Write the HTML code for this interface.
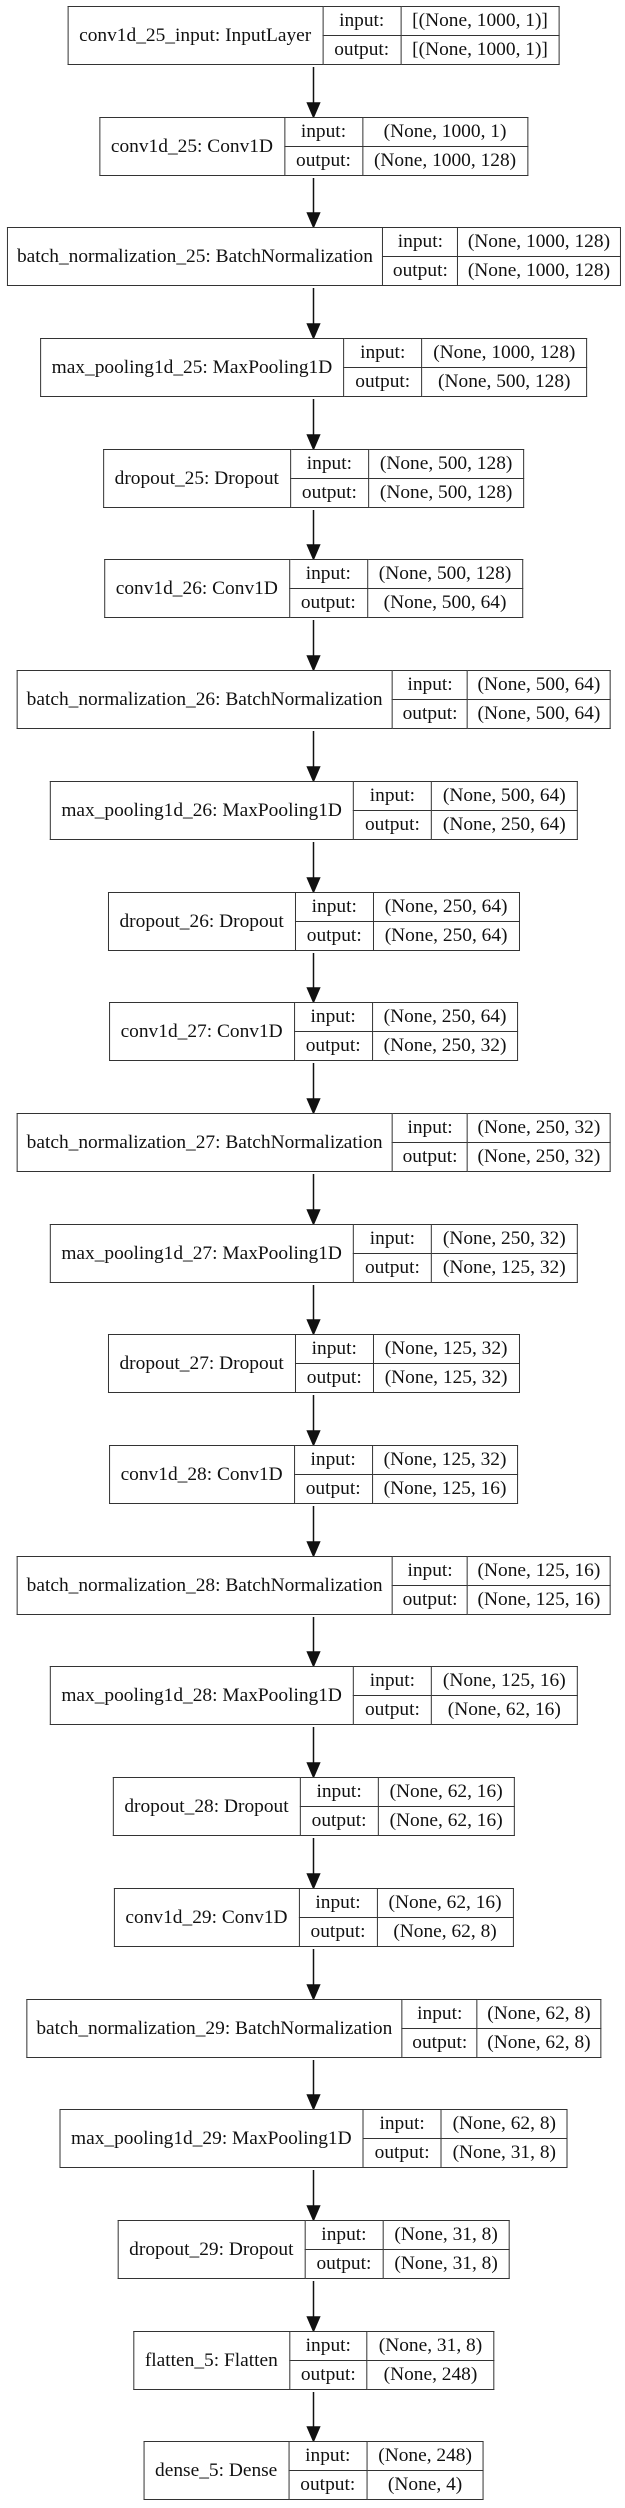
<!DOCTYPE html>
<html><head><meta charset="utf-8"><style>
html,body{margin:0;padding:0;background:#fff;width:625px;height:2508px;overflow:hidden;position:relative}
table{position:absolute;left:313.5px;transform:translateX(-50%);border-collapse:collapse;font-family:"Liberation Serif",serif;font-size:19.4px;color:#111;background:#fff}
td{border:1.5px solid #333;padding:0 11px;height:28px;line-height:28px;white-space:nowrap;text-align:center}
table.bn td{padding:0 9.5px}
svg{position:absolute;left:0;top:0}
</style></head><body>
<svg width="625" height="2508">
<g stroke="#111" stroke-width="1.5" fill="#111">
<line x1="313.5" y1="67" x2="313.5" y2="103"/><polygon points="307.5,103 319.5,103 313.5,117"/>
<line x1="313.5" y1="178" x2="313.5" y2="213"/><polygon points="307.5,213 319.5,213 313.5,227"/>
<line x1="313.5" y1="288" x2="313.5" y2="324"/><polygon points="307.5,324 319.5,324 313.5,338"/>
<line x1="313.5" y1="399" x2="313.5" y2="435"/><polygon points="307.5,435 319.5,435 313.5,449"/>
<line x1="313.5" y1="510" x2="313.5" y2="545"/><polygon points="307.5,545 319.5,545 313.5,559"/>
<line x1="313.5" y1="620" x2="313.5" y2="656"/><polygon points="307.5,656 319.5,656 313.5,670"/>
<line x1="313.5" y1="731" x2="313.5" y2="767"/><polygon points="307.5,767 319.5,767 313.5,781"/>
<line x1="313.5" y1="842" x2="313.5" y2="878"/><polygon points="307.5,878 319.5,878 313.5,892"/>
<line x1="313.5" y1="953" x2="313.5" y2="988"/><polygon points="307.5,988 319.5,988 313.5,1002"/>
<line x1="313.5" y1="1063" x2="313.5" y2="1099"/><polygon points="307.5,1099 319.5,1099 313.5,1113"/>
<line x1="313.5" y1="1174" x2="313.5" y2="1210"/><polygon points="307.5,1210 319.5,1210 313.5,1224"/>
<line x1="313.5" y1="1285" x2="313.5" y2="1320"/><polygon points="307.5,1320 319.5,1320 313.5,1334"/>
<line x1="313.5" y1="1395" x2="313.5" y2="1431"/><polygon points="307.5,1431 319.5,1431 313.5,1445"/>
<line x1="313.5" y1="1506" x2="313.5" y2="1542"/><polygon points="307.5,1542 319.5,1542 313.5,1556"/>
<line x1="313.5" y1="1617" x2="313.5" y2="1652"/><polygon points="307.5,1652 319.5,1652 313.5,1666"/>
<line x1="313.5" y1="1727" x2="313.5" y2="1763"/><polygon points="307.5,1763 319.5,1763 313.5,1777"/>
<line x1="313.5" y1="1838" x2="313.5" y2="1874"/><polygon points="307.5,1874 319.5,1874 313.5,1888"/>
<line x1="313.5" y1="1949" x2="313.5" y2="1985"/><polygon points="307.5,1985 319.5,1985 313.5,1999"/>
<line x1="313.5" y1="2060" x2="313.5" y2="2095"/><polygon points="307.5,2095 319.5,2095 313.5,2109"/>
<line x1="313.5" y1="2170" x2="313.5" y2="2206"/><polygon points="307.5,2206 319.5,2206 313.5,2220"/>
<line x1="313.5" y1="2281" x2="313.5" y2="2317"/><polygon points="307.5,2317 319.5,2317 313.5,2331"/>
<line x1="313.5" y1="2392" x2="313.5" y2="2427"/><polygon points="307.5,2427 319.5,2427 313.5,2441"/>
</g></svg>

<table style="top:6px"><tr><td rowspan="2">conv1d_25_input: InputLayer</td><td>input:</td><td>[(None, 1000, 1)]</td></tr><tr><td>output:</td><td>[(None, 1000, 1)]</td></tr></table>
<table style="top:117px"><tr><td rowspan="2">conv1d_25: Conv1D</td><td>input:</td><td>(None, 1000, 1)</td></tr><tr><td>output:</td><td>(None, 1000, 128)</td></tr></table>
<table class="bn" style="top:227px"><tr><td rowspan="2">batch_normalization_25: BatchNormalization</td><td>input:</td><td>(None, 1000, 128)</td></tr><tr><td>output:</td><td>(None, 1000, 128)</td></tr></table>
<table style="top:338px"><tr><td rowspan="2">max_pooling1d_25: MaxPooling1D</td><td>input:</td><td>(None, 1000, 128)</td></tr><tr><td>output:</td><td>(None, 500, 128)</td></tr></table>
<table style="top:449px"><tr><td rowspan="2">dropout_25: Dropout</td><td>input:</td><td>(None, 500, 128)</td></tr><tr><td>output:</td><td>(None, 500, 128)</td></tr></table>
<table style="top:559px"><tr><td rowspan="2">conv1d_26: Conv1D</td><td>input:</td><td>(None, 500, 128)</td></tr><tr><td>output:</td><td>(None, 500, 64)</td></tr></table>
<table class="bn" style="top:670px"><tr><td rowspan="2">batch_normalization_26: BatchNormalization</td><td>input:</td><td>(None, 500, 64)</td></tr><tr><td>output:</td><td>(None, 500, 64)</td></tr></table>
<table style="top:781px"><tr><td rowspan="2">max_pooling1d_26: MaxPooling1D</td><td>input:</td><td>(None, 500, 64)</td></tr><tr><td>output:</td><td>(None, 250, 64)</td></tr></table>
<table style="top:892px"><tr><td rowspan="2">dropout_26: Dropout</td><td>input:</td><td>(None, 250, 64)</td></tr><tr><td>output:</td><td>(None, 250, 64)</td></tr></table>
<table style="top:1002px"><tr><td rowspan="2">conv1d_27: Conv1D</td><td>input:</td><td>(None, 250, 64)</td></tr><tr><td>output:</td><td>(None, 250, 32)</td></tr></table>
<table class="bn" style="top:1113px"><tr><td rowspan="2">batch_normalization_27: BatchNormalization</td><td>input:</td><td>(None, 250, 32)</td></tr><tr><td>output:</td><td>(None, 250, 32)</td></tr></table>
<table style="top:1224px"><tr><td rowspan="2">max_pooling1d_27: MaxPooling1D</td><td>input:</td><td>(None, 250, 32)</td></tr><tr><td>output:</td><td>(None, 125, 32)</td></tr></table>
<table style="top:1334px"><tr><td rowspan="2">dropout_27: Dropout</td><td>input:</td><td>(None, 125, 32)</td></tr><tr><td>output:</td><td>(None, 125, 32)</td></tr></table>
<table style="top:1445px"><tr><td rowspan="2">conv1d_28: Conv1D</td><td>input:</td><td>(None, 125, 32)</td></tr><tr><td>output:</td><td>(None, 125, 16)</td></tr></table>
<table class="bn" style="top:1556px"><tr><td rowspan="2">batch_normalization_28: BatchNormalization</td><td>input:</td><td>(None, 125, 16)</td></tr><tr><td>output:</td><td>(None, 125, 16)</td></tr></table>
<table style="top:1666px"><tr><td rowspan="2">max_pooling1d_28: MaxPooling1D</td><td>input:</td><td>(None, 125, 16)</td></tr><tr><td>output:</td><td>(None, 62, 16)</td></tr></table>
<table style="top:1777px"><tr><td rowspan="2">dropout_28: Dropout</td><td>input:</td><td>(None, 62, 16)</td></tr><tr><td>output:</td><td>(None, 62, 16)</td></tr></table>
<table style="top:1888px"><tr><td rowspan="2">conv1d_29: Conv1D</td><td>input:</td><td>(None, 62, 16)</td></tr><tr><td>output:</td><td>(None, 62, 8)</td></tr></table>
<table class="bn" style="top:1999px"><tr><td rowspan="2">batch_normalization_29: BatchNormalization</td><td>input:</td><td>(None, 62, 8)</td></tr><tr><td>output:</td><td>(None, 62, 8)</td></tr></table>
<table style="top:2109px"><tr><td rowspan="2">max_pooling1d_29: MaxPooling1D</td><td>input:</td><td>(None, 62, 8)</td></tr><tr><td>output:</td><td>(None, 31, 8)</td></tr></table>
<table style="top:2220px"><tr><td rowspan="2">dropout_29: Dropout</td><td>input:</td><td>(None, 31, 8)</td></tr><tr><td>output:</td><td>(None, 31, 8)</td></tr></table>
<table style="top:2331px"><tr><td rowspan="2">flatten_5: Flatten</td><td>input:</td><td>(None, 31, 8)</td></tr><tr><td>output:</td><td>(None, 248)</td></tr></table>
<table style="top:2441px"><tr><td rowspan="2">dense_5: Dense</td><td>input:</td><td>(None, 248)</td></tr><tr><td>output:</td><td>(None, 4)</td></tr></table>
</body></html>
